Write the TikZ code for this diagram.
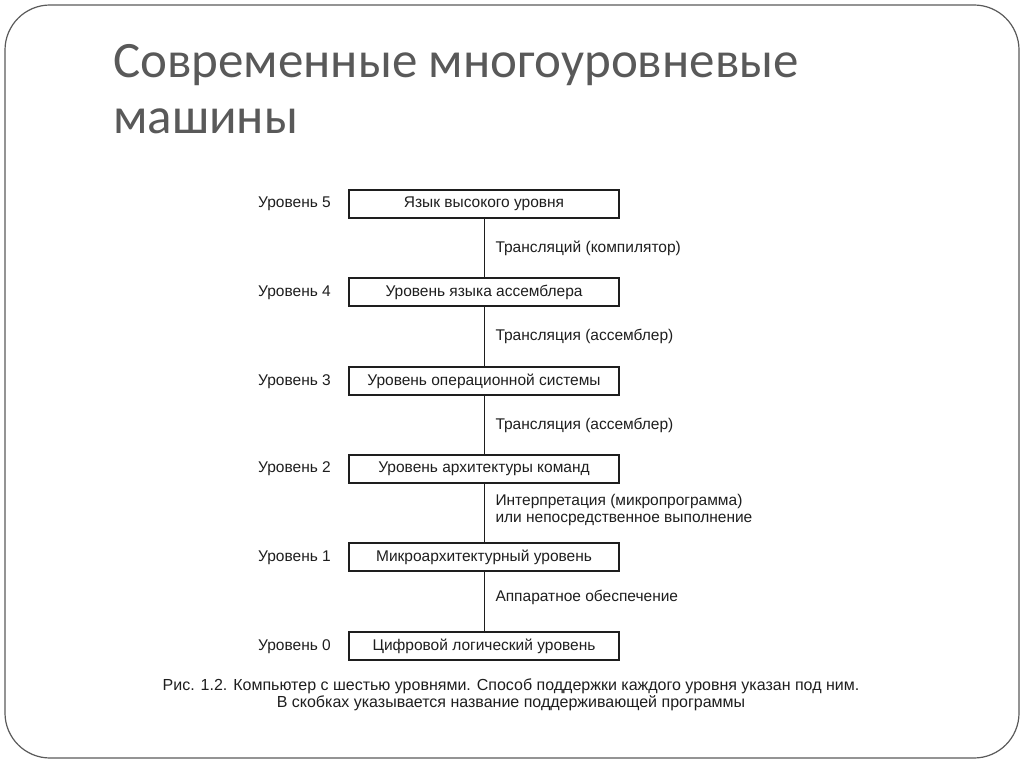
\documentclass[tikz,border=0pt]{standalone}
\usepackage{fontspec}
\setmainfont{Liberation Sans}
\newfontfamily\titlefont{Carlito}
\usetikzlibrary{positioning}
\definecolor{titlegray}{HTML}{595959}
\definecolor{ink}{HTML}{1E1E1E}
\definecolor{framegray}{HTML}{5A5A5A}
\begin{document}
\begin{tikzpicture}[x=1pt,y=-1pt,
  levelbox/.style={draw=ink,line width=1.5pt,minimum width=270pt,minimum height=28pt,inner sep=0pt,font=\fontsize{15.5}{17}\selectfont,text=ink},
  levellabel/.style={anchor=base west,inner sep=0pt,font=\fontsize{15.5}{17}\selectfont,text=ink},
  edgelabel/.style={midway,right=11pt,inner sep=0pt,align=left,font=\fontsize{15.5}{17}\selectfont,text=ink},
  conn/.style={draw=ink,line width=1pt}]
\useasboundingbox (0,0) rectangle (1024,767);
\draw[framegray,line width=1.2pt,rounded corners=45pt] (5,5) rectangle (1019,758);
\node[anchor=base west,inner sep=0pt,text=titlegray,font=\titlefont\fontsize{51}{57}\selectfont] (t1) at (113,78) {Современные многоуровневые};
\node[anchor=base west,inner sep=0pt,text=titlegray,font=\titlefont\fontsize{51}{57}\selectfont] (t2) at (113,134) {машины};

\node[levelbox] (b5) at (484,204) {Язык высокого уровня};
\node[levelbox] (b4) at (484,292) {Уровень языка ассемблера};
\node[levelbox] (b3) at (484,381) {Уровень операционной системы};
\node[levelbox] (b2) at (484,469) {Уровень архитектуры команд};
\node[levelbox] (b1) at (484,557) {Микроархитектурный уровень};
\node[levelbox] (b0) at (484,646) {Цифровой логический уровень};

\coordinate (lx) at (258,0);
\node[levellabel] (l5) at (lx |- b5.base) {Уровень 5};
\node[levellabel] (l4) at (lx |- b4.base) {Уровень 4};
\node[levellabel] (l3) at (lx |- b3.base) {Уровень 3};
\node[levellabel] (l2) at (lx |- b2.base) {Уровень 2};
\node[levellabel] (l1) at (lx |- b1.base) {Уровень 1};
\node[levellabel] (l0) at (lx |- b0.base) {Уровень 0};

\draw[conn] (b5) -- node[edgelabel] (e5) {Трансляций (компилятор)} (b4);
\draw[conn] (b4) -- node[edgelabel] (e4) {Трансляция (ассемблер)} (b3);
\draw[conn] (b3) -- node[edgelabel] (e3) {Трансляция (ассемблер)} (b2);
\draw[conn] (b2) -- node[edgelabel,yshift=3pt] (e2) {Интерпретация (микропрограмма)\\или непосредственное выполнение} (b1);
\draw[conn] (b1) -- node[edgelabel,yshift=4pt] (e1) {Аппаратное обеспечение} (b0);

\node[inner sep=0pt,align=center,text=ink,font=\fontsize{16}{17}\selectfont] (cap) at (511,695) {Рис. 1.2. Компьютер с шестью уровнями. Способ поддержки каждого уровня указан под ним.\\В скобках указывается название поддерживающей программы};
\end{tikzpicture}
\end{document}
